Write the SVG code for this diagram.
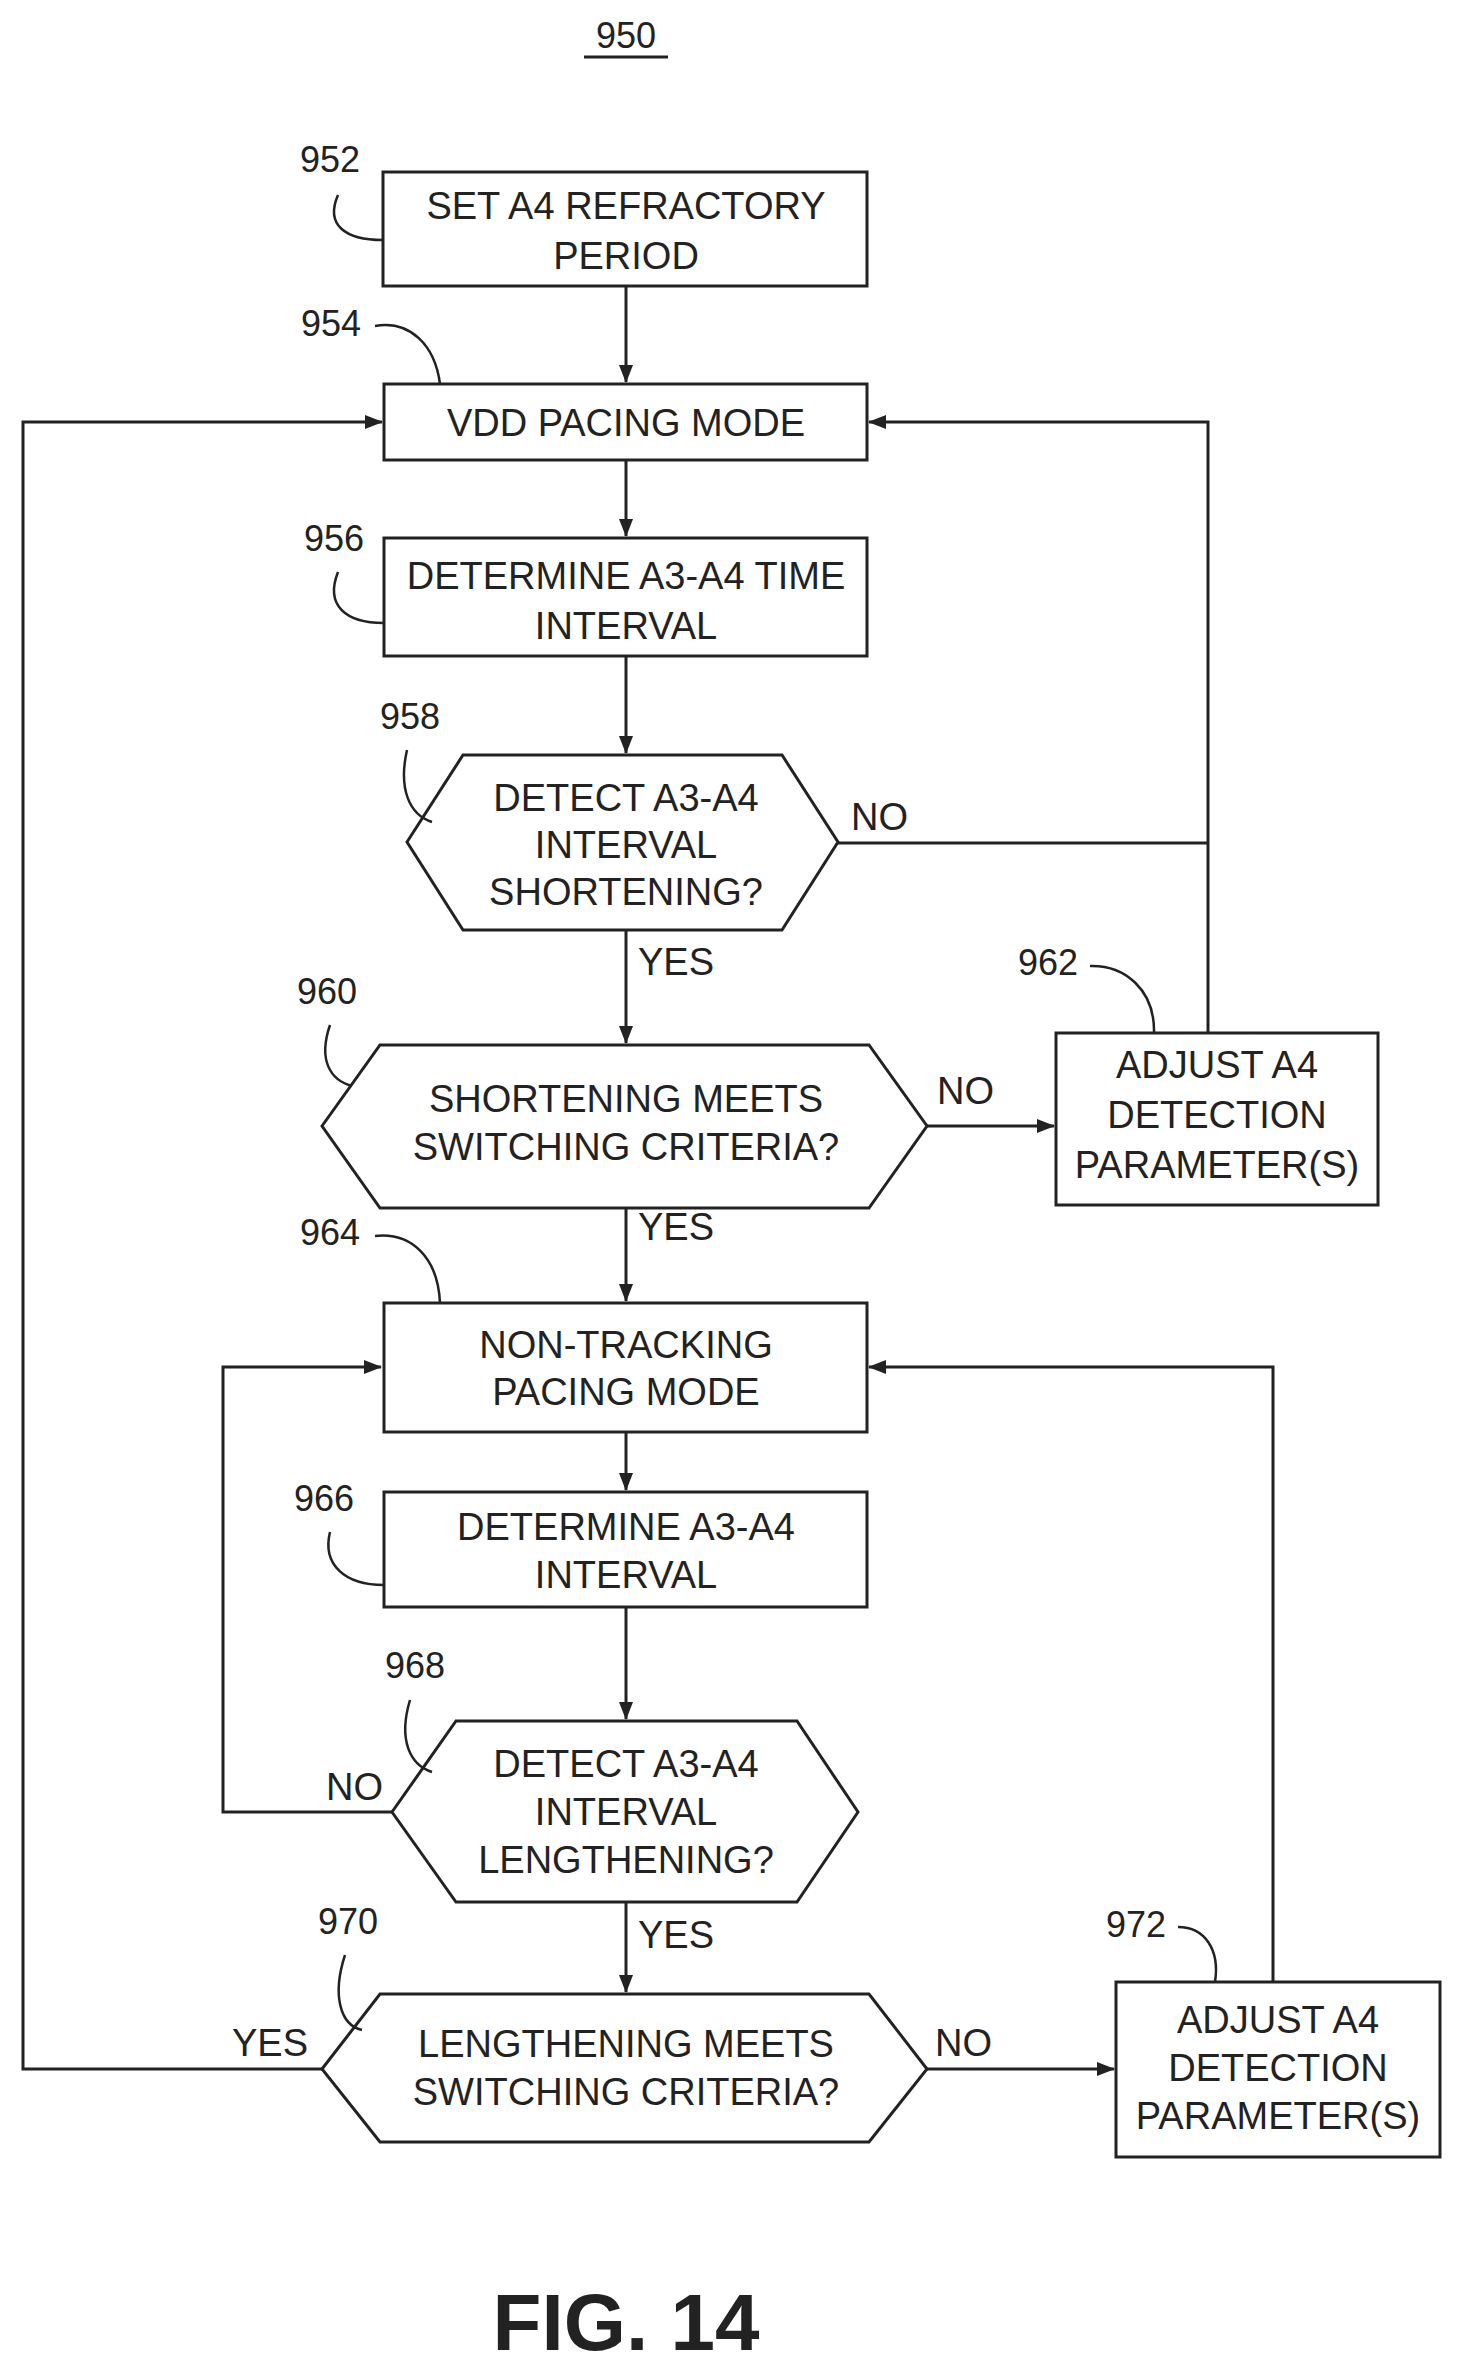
<svg xmlns="http://www.w3.org/2000/svg" width="1458" height="2377" viewBox="0 0 1458 2377">
<style>
.b{fill:#fff;stroke:#222;stroke-width:3}
.t{font-family:"Liberation Sans",Arial,sans-serif;font-size:38px;fill:#222;text-anchor:middle}
.s{font-family:"Liberation Sans",Arial,sans-serif;font-size:38px;fill:#222;text-anchor:start}
.r{font-family:"Liberation Sans",Arial,sans-serif;font-size:36px;fill:#222;text-anchor:middle}
.c{fill:none;stroke:#222;stroke-width:3}
.l{fill:none;stroke:#222;stroke-width:2.5}
</style>
<defs><marker id="a" markerWidth="18" markerHeight="14" refX="17" refY="7" orient="auto" markerUnits="userSpaceOnUse"><path d="M0,0L18,7L0,14Z" fill="#222"/></marker></defs>
<rect width="1458" height="2377" fill="#fff"/>
<text class="r" x="626" y="48">950</text>
<line x1="584" y1="57" x2="668" y2="57" stroke="#222" stroke-width="3"/>
<g id="connectors">
<line class="c" x1="626" y1="286" x2="626" y2="382" marker-end="url(#a)"/>
<line class="c" x1="626" y1="460" x2="626" y2="536" marker-end="url(#a)"/>
<line class="c" x1="626" y1="656" x2="626" y2="753" marker-end="url(#a)"/>
<line class="c" x1="626" y1="930" x2="626" y2="1043" marker-end="url(#a)"/>
<polyline class="c" points="838,843 1208,843"/>
<polyline class="c" points="1208,1033 1208,422 869,422" marker-end="url(#a)"/>
<line class="c" x1="927" y1="1126" x2="1054" y2="1126" marker-end="url(#a)"/>
<line class="c" x1="626" y1="1208" x2="626" y2="1301" marker-end="url(#a)"/>
<line class="c" x1="626" y1="1432" x2="626" y2="1490" marker-end="url(#a)"/>
<line class="c" x1="626" y1="1607" x2="626" y2="1719" marker-end="url(#a)"/>
<polyline class="c" points="392,1812 223,1812 223,1367 381,1367" marker-end="url(#a)"/>
<line class="c" x1="626" y1="1902" x2="626" y2="1992" marker-end="url(#a)"/>
<polyline class="c" points="322,2069 23,2069 23,422 382,422" marker-end="url(#a)"/>
<line class="c" x1="927" y1="2069" x2="1114" y2="2069" marker-end="url(#a)"/>
<polyline class="c" points="1273,1982 1273,1367 869,1367" marker-end="url(#a)"/>
<text class="s" x="851" y="830">NO</text>
<text class="s" x="638" y="975">YES</text>
<text class="s" x="937" y="1104">NO</text>
<text class="s" x="638" y="1240">YES</text>
<text class="s" x="326" y="1800">NO</text>
<text class="s" x="638" y="1948">YES</text>
<text class="s" x="232" y="2056">YES</text>
<text class="s" x="935" y="2056">NO</text>
</g>
<g id="n952"><rect class="b" x="383" y="172" width="484" height="114"/><text class="t" x="626" y="219">SET A4 REFRACTORY</text><text class="t" x="626" y="269">PERIOD</text>
<text class="r" x="330" y="172">952</text><path class="l" d="M338,195 C325,225 345,240 383,240"/></g>
<g id="n954"><rect class="b" x="384" y="384" width="483" height="76"/><text class="t" x="626" y="436">VDD PACING MODE</text>
<text class="r" x="331" y="336">954</text><path class="l" d="M375,326 C410,320 435,345 440,384"/></g>
<g id="n956"><rect class="b" x="384" y="538" width="483" height="118"/><text class="t" x="626" y="589">DETERMINE A3-A4 TIME</text><text class="t" x="626" y="639">INTERVAL</text>
<text class="r" x="334" y="551">956</text><path class="l" d="M338,572 C325,605 345,623 384,623"/></g>
<g id="n958"><polygon class="b" points="407,842 463,755 782,755 838,842 782,930 463,930"/><text class="t" x="626" y="811">DETECT A3-A4</text><text class="t" x="626" y="858">INTERVAL</text><text class="t" x="626" y="905">SHORTENING?</text>
<text class="r" x="410" y="729">958</text><path class="l" d="M407,750 C398,790 410,815 432,822"/></g>
<g id="n960"><polygon class="b" points="322,1126 380,1045 869,1045 927,1126 869,1208 380,1208"/><text class="t" x="626" y="1112">SHORTENING MEETS</text><text class="t" x="626" y="1160">SWITCHING CRITERIA?</text>
<text class="r" x="327" y="1004">960</text><path class="l" d="M330,1025 C318,1060 330,1080 352,1086"/></g>
<g id="n962"><rect class="b" x="1056" y="1033" width="322" height="172"/><text class="t" x="1217" y="1078">ADJUST A4</text><text class="t" x="1217" y="1128">DETECTION</text><text class="t" x="1217" y="1178">PARAMETER(S)</text>
<text class="r" x="1048" y="975">962</text><path class="l" d="M1090,966 C1125,965 1155,990 1154,1033"/></g>
<g id="n964"><rect class="b" x="384" y="1303" width="483" height="129"/><text class="t" x="626" y="1358">NON-TRACKING</text><text class="t" x="626" y="1405">PACING MODE</text>
<text class="r" x="330" y="1245">964</text><path class="l" d="M375,1236 C412,1232 438,1258 440,1303"/></g>
<g id="n966"><rect class="b" x="384" y="1492" width="483" height="115"/><text class="t" x="626" y="1540">DETERMINE A3-A4</text><text class="t" x="626" y="1588">INTERVAL</text>
<text class="r" x="324" y="1511">966</text><path class="l" d="M330,1532 C322,1565 345,1585 384,1585"/></g>
<g id="n968"><polygon class="b" points="392,1812 456,1721 797,1721 858,1812 797,1902 456,1902"/><text class="t" x="626" y="1777">DETECT A3-A4</text><text class="t" x="626" y="1825">INTERVAL</text><text class="t" x="626" y="1873">LENGTHENING?</text>
<text class="r" x="415" y="1678">968</text><path class="l" d="M410,1700 C398,1740 410,1765 432,1772"/></g>
<g id="n970"><polygon class="b" points="322,2069 380,1994 869,1994 927,2069 869,2142 380,2142"/><text class="t" x="626" y="2057">LENGTHENING MEETS</text><text class="t" x="626" y="2105">SWITCHING CRITERIA?</text>
<text class="r" x="348" y="1934">970</text><path class="l" d="M345,1955 C332,1995 340,2025 362,2030"/></g>
<g id="n972"><rect class="b" x="1116" y="1982" width="324" height="175"/><text class="t" x="1278" y="2033">ADJUST A4</text><text class="t" x="1278" y="2081">DETECTION</text><text class="t" x="1278" y="2129">PARAMETER(S)</text>
<text class="r" x="1136" y="1937">972</text><path class="l" d="M1178,1927 C1205,1927 1220,1950 1215,1982"/></g>
<text x="626" y="2350" font-family="Liberation Sans,Arial,sans-serif" font-size="80" font-weight="bold" text-anchor="middle" fill="#222">FIG. 14</text>
</svg>
